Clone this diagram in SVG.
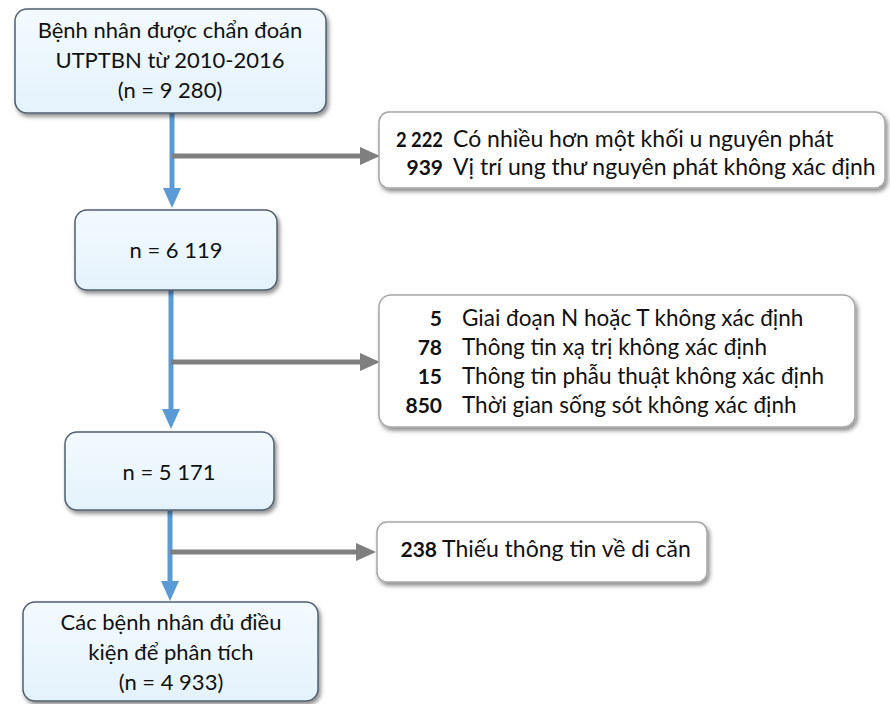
<svg xmlns="http://www.w3.org/2000/svg" width="890" height="704" viewBox="0 0 890 704">
<defs>
<filter id="sh" x="-10%" y="-10%" width="125%" height="130%">
<feDropShadow dx="2" dy="3" stdDeviation="2" flood-color="#000" flood-opacity="0.45"/>
</filter>
<linearGradient id="bg" x1="0" y1="0" x2="0" y2="1">
<stop offset="0" stop-color="#f3faff"/>
<stop offset="1" stop-color="#e4f2fb"/>
</linearGradient>
<marker id="ab" markerUnits="userSpaceOnUse" markerWidth="18" markerHeight="20" refX="9" refY="0" orient="0">
<path d="M0,0 L18,0 L9,20 Z" fill="#5b9bd5"/>
</marker>
<marker id="ag" markerUnits="userSpaceOnUse" markerWidth="20" markerHeight="18" refX="0" refY="9" orient="0">
<path d="M0,0 L20,9 L0,18 Z" fill="#7f7f7f"/>
</marker>
</defs>
<style>
.lb{fill:url(#bg);stroke:#4f5f70;stroke-width:1.5;filter:url(#sh)}
.rb{fill:#ffffff;stroke:#a6a6a6;stroke-width:1.5;filter:url(#sh)}
text{font-family:Lato,"Liberation Sans",Arial,sans-serif;font-size:22px;fill:#111}
.c{text-anchor:middle}
.r{font-size:23px}
.r2{font-size:22.5px}
.n{text-anchor:end;font-weight:bold;font-size:21px}
.blue{stroke:#5b9bd5;stroke-width:5;fill:none}
.gray{stroke:#7f7f7f;stroke-width:5;fill:none}
</style>
<g id="connectors">
<line class="blue" x1="172" y1="113" x2="172" y2="188" marker-end="url(#ab)"/>
<line class="gray" x1="172" y1="156" x2="360" y2="156" marker-end="url(#ag)"/>
<line class="blue" x1="171" y1="290" x2="171" y2="409" marker-end="url(#ab)"/>
<line class="gray" x1="171" y1="362" x2="360" y2="362" marker-end="url(#ag)"/>
<line class="blue" x1="170" y1="511" x2="170" y2="581" marker-end="url(#ab)"/>
<line class="gray" x1="170" y1="552" x2="356" y2="552" marker-end="url(#ag)"/>
</g>
<g id="n1">
<rect class="lb" x="15" y="9" width="311" height="104" rx="12"/>
<text class="c" x="170" y="38">Bệnh nhân được chẩn đoán</text>
<text class="c" x="170" y="68">UTPTBN từ 2010-2016</text>
<text class="c" x="170" y="98">(n = 9 280)</text>
</g>
<g id="n2">
<rect class="lb" x="75" y="210" width="202" height="80" rx="12"/>
<text class="c" x="176" y="258">n = 6 119</text>
</g>
<g id="n3">
<rect class="lb" x="65" y="432" width="209" height="78" rx="12"/>
<text class="c" x="169" y="480">n = 5 171</text>
</g>
<g id="n4">
<rect class="lb" x="23" y="602" width="295" height="99" rx="12"/>
<text class="c" x="171" y="630">Các bệnh nhân đủ điều</text>
<text class="c" x="171" y="660">kiện để phân tích</text>
<text class="c" x="171" y="690">(n = 4 933)</text>
</g>
<g id="r1">
<rect class="rb" x="379" y="112" width="506" height="76" rx="10"/>
<text class="n" x="443" y="147" textLength="47" lengthAdjust="spacingAndGlyphs">2 222</text>
<text class="r" x="453" y="147">Có nhiều hơn một khối u nguyên phát</text>
<text class="n" x="443" y="175">939</text>
<text class="r" x="453" y="175">Vị trí ung thư nguyên phát không xác định</text>
</g>
<g id="r2">
<rect class="rb" x="379" y="295" width="476" height="132" rx="12"/>
<text class="n" x="442" y="326">5</text>
<text class="r2" x="462" y="326">Giai đoạn N hoặc T không xác định</text>
<text class="n" x="442" y="355">78</text>
<text class="r2" x="462" y="355">Thông tin xạ trị không xác định</text>
<text class="n" x="442" y="384">15</text>
<text class="r2" x="462" y="384">Thông tin phẫu thuật không xác định</text>
<text class="n" x="442" y="413">850</text>
<text class="r2" x="462" y="413">Thời gian sống sót không xác định</text>
</g>
<g id="r3">
<rect class="rb" x="377" y="522" width="330" height="60" rx="10"/>
<text class="n" x="437" y="557">238</text>
<text class="r" x="442" y="557">Thiếu thông tin về di căn</text>
</g>
</svg>
